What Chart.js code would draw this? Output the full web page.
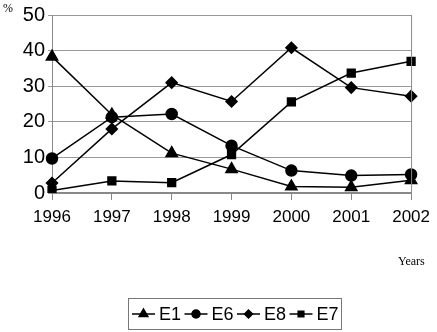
<!DOCTYPE html>
<html>
<head>
<meta charset="utf-8">
<script src="https://cdn.jsdelivr.net/npm/chart.js@4"></script>
<style>
  html, body { margin: 0; padding: 0; background: #fff; }
  #wrap { width: 437px; height: 332px; }
</style>
</head>
<body>
<div id="wrap"><canvas id="myChart" width="437" height="332"></canvas></div>
<script>
// data
var years = ['1996', '1997', '1998', '1999', '2000', '2001', '2002'];
var yTicks = [0, 10, 20, 30, 40, 50];
var e1 = [38.3, 22, 11.2, 6.7, 1.8, 1.6, 3.6];
var e6 = [9.7, 21.3, 22.2, 13.3, 6.3, 4.9, 5.2];
var e8 = [2.8, 18, 31, 25.7, 40.8, 29.6, 27.2];
var e7 = [0.7, 3.4, 2.9, 10.8, 25.6, 33.7, 37];

var sans = '"Liberation Sans", Arial, sans-serif';

function series(label, data, style, radius) {
  return {
    label: label, data: data,
    borderColor: '#000', backgroundColor: '#000', borderWidth: 1.5,
    pointStyle: style, pointRadius: radius, pointHoverRadius: radius,
    pointBorderColor: '#000', pointBackgroundColor: '#000',
    tension: 0, fill: false
  };
}

var datasets = [
  series('E1', e1, 'triangle', 6.5),
  series('E6', e6, 'circle', 5.5),
  series('E8', e8, 'rectRot', 5.5),
  series('E7', e7, 'rect', 5.5)
];

// extra bits: % label, Years label, right border, legend box
var extras = {
  id: 'extras',
  afterDraw: function(chart) {
    var c = chart.ctx, a = chart.chartArea;
    c.save();
    // right border
    c.strokeStyle = '#888';
    c.lineWidth = 1;
    c.beginPath();
    c.moveTo(a.right + 0.5, a.top);
    c.lineTo(a.right + 0.5, a.bottom);
    c.stroke();

    c.fillStyle = '#000';
    c.font = '12px "Liberation Serif", serif';
    c.textBaseline = 'alphabetic';
    c.fillText('%', 3, 12);
    c.fillText('Years', 398, 265);

    // legend
    c.strokeStyle = '#777';
    c.strokeRect(128.5, 298.5, 213, 31);
    var x = 132, cy = 314;
    c.font = '18px ' + sans;
    c.textBaseline = 'middle';
    for (var i = 0; i < datasets.length; i++) {
      var d = datasets[i];
      c.strokeStyle = '#000';
      c.lineWidth = 1.5;
      c.beginPath();
      c.moveTo(x, cy);
      c.lineTo(x + 23, cy);
      c.stroke();
      Chart.helpers.drawPoint(c, {pointStyle: d.pointStyle, radius: d.pointRadius - 1.5, borderWidth: 1}, x + 11.5, cy);
      c.fillStyle = '#000';
      c.fill();
      c.fillText(d.label, x + 27, cy + 1);
      x += 52.5;
    }
    c.restore();
  }
};

var ctx = document.getElementById('myChart').getContext('2d');
var chart = new Chart(ctx, {
  type: 'line',
  data: { labels: years, datasets: datasets },
  plugins: [extras],
  options: {
    responsive: false,
    animation: false,
    layout: { padding: { left: 0, top: 13, right: 20, bottom: 0 } },
    plugins: { legend: { display: false }, tooltip: { enabled: false } },
    scales: {
      x: {
        type: 'category',
        offset: false,
        afterFit: function(s) { s.height = 139; },
        grid: { drawOnChartArea: false, drawTicks: true, tickLength: 7, color: '#888' },
        border: { color: '#888', width: 2 },
        ticks: { color: '#000', font: { family: sans, size: 17 }, padding: 7, maxRotation: 0, autoSkip: false }
      },
      y: {
        min: 0, max: 50,
        afterFit: function(s) { s.width = 52; },
        afterBuildTicks: function(s) { s.ticks = yTicks.map(function(v) { return { value: v }; }); },
        grid: { color: '#999', lineWidth: 1, tickLength: 4 },
        border: { color: '#888', width: 1 },
        ticks: { color: '#000', font: { family: sans, size: 20 }, padding: 3 }
      }
    }
  }
});
</script>
</body>
</html>
